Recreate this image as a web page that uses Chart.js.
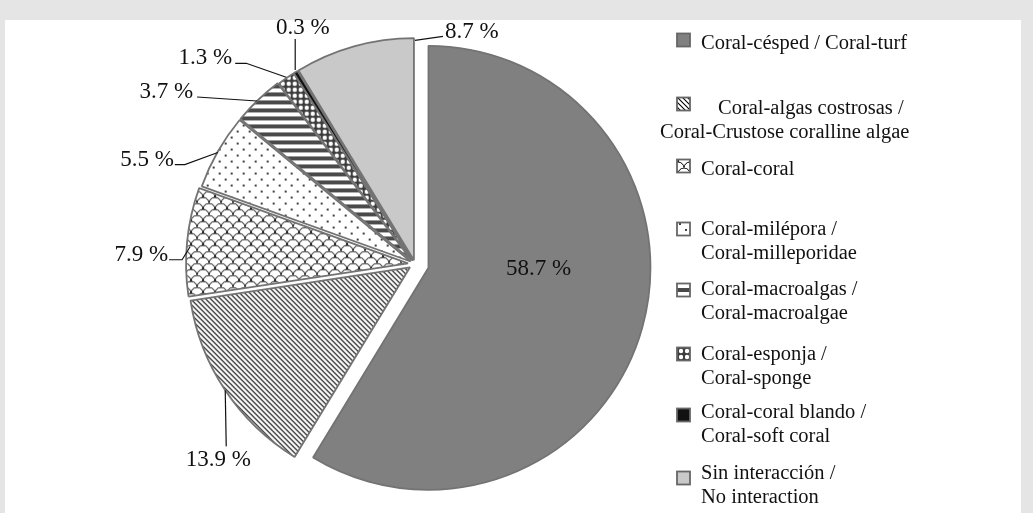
<!DOCTYPE html>
<html>
<head>
<meta charset="utf-8">
<title>Interacciones coralinas</title>
<script src="https://cdn.jsdelivr.net/npm/chart.js@4.4.1/dist/chart.umd.min.js"></script>
<style>
  html, body { margin: 0; padding: 0; width: 1033px; height: 513px; overflow: hidden; background: #e5e5e5; }
  #panel { position: absolute; left: 5px; top: 20px; width: 1016px; height: 493px; background: #ffffff; }
  #wrap { position: absolute; left: 0; top: 0; width: 1033px; height: 513px; }
</style>
</head>
<body>
<div id="panel"></div>
<div id="wrap"><canvas id="chart"></canvas></div>
<script>
// ---- data ----
const categories = [
  'Coral-césped / Coral-turf',
  'Coral-algas costrosas / Coral-Crustose coralline algae',
  'Coral-coral',
  'Coral-milépora / Coral-milleporidae',
  'Coral-macroalgas / Coral-macroalgae',
  'Coral-esponja / Coral-sponge',
  'Coral-coral blando / Coral-soft coral',
  'Sin interacción / No interaction'
];
const values = [58.7, 13.9, 7.9, 5.5, 3.7, 1.3, 0.3, 8.7];
const legendLines = [
  ['Coral-césped / Coral-turf'],
  ['Coral-algas costrosas /', 'Coral-Crustose coralline algae'],
  ['Coral-coral'],
  ['Coral-milépora /', 'Coral-milleporidae'],
  ['Coral-macroalgas /', 'Coral-macroalgae'],
  ['Coral-esponja /', 'Coral-sponge'],
  ['Coral-coral blando /', 'Coral-soft coral'],
  ['Sin interacción /', 'No interaction']
];

// ---- styling ----
const serif = '"Liberation Serif", "Times New Roman", serif';
const labelFont = '23px ' + serif;
const legendFont = '20.5px ' + serif;
const sliceShift = [14, 6, 7, 5, 5, 4, 4, 4];   // explosion distance of each slice, px
const pieRadius = 222;

function tile(w, h, paint) {
  const c = document.createElement('canvas');
  c.width = w; c.height = h;
  const g = c.getContext('2d');
  g.fillStyle = '#ffffff';
  g.fillRect(0, 0, w, h);
  paint(g, w, h);
  return g.createPattern(c, 'repeat');
}

const hatch = tile(5, 5, (g) => {
  g.strokeStyle = '#000'; g.lineWidth = 1.1;
  g.beginPath();
  g.moveTo(-1, -1); g.lineTo(6, 6);
  g.moveTo(4, -1); g.lineTo(6, 1);
  g.moveTo(-1, 4); g.lineTo(1, 6);
  g.stroke();
});
const scales = tile(12, 12, (g) => {
  g.strokeStyle = '#000'; g.lineWidth = 1;
  g.beginPath(); g.arc(6, 12, 6, Math.PI, 2 * Math.PI); g.stroke();
  g.beginPath(); g.arc(0, 6, 6, 1.5 * Math.PI, 2 * Math.PI); g.stroke();
  g.beginPath(); g.arc(12, 6, 6, Math.PI, 1.5 * Math.PI); g.stroke();
});
const dots = tile(12, 12, (g) => {
  g.fillStyle = '#000';
  g.beginPath(); g.arc(2, 2, 1, 0, 2 * Math.PI); g.fill();
  g.beginPath(); g.arc(8, 8, 1, 0, 2 * Math.PI); g.fill();
});
const stripes = tile(8, 8, (g) => {
  g.fillStyle = '#4a4a4a';
  g.fillRect(0, 0, 8, 4);
});
const spheres = tile(6, 6, (g) => {
  g.fillStyle = '#3c3c3c';
  g.fillRect(0, 0, 6, 6);
  g.fillStyle = '#ffffff';
  g.beginPath(); g.arc(3, 3, 2.2, 0, 2 * Math.PI); g.fill();
});

const fills = ['#808080', hatch, scales, dots, stripes, spheres, '#111111', '#c9c9c9'];

// where each value label sits: offsets from the slice rim at its mid-angle (or from its apex)
const labelPlacement = [
  { from: 'apex', text: [110, 7], align: 'center' },
  { path: [[0, 0], [1, 56]], text: [-7, 76], align: 'center' },
  { path: [[3, 5], [-5, 18], [-18, 18]], text: [-19, 19], align: 'right' },
  { path: [[0, 1], [-33, 13], [-43, 13]], text: [-44, 14], align: 'right' },
  { path: [[-1, 1], [-61, -3]], text: [-65, -2], align: 'right' },
  { path: [[0, -1], [-40, -15], [-51, -15]], text: [-54, -14], align: 'right' },
  { path: [[-0.5, -2], [-0.5, -33]], text: [7, -38], align: 'center' },
  { path: [[61, -6], [89, -10]], text: [91, -8], align: 'left' }
];

const legendLayout = {
  iconX: 677, iconSize: 13, textX: 701, lineGap: 24,
  rows: [
    { icon: 40, base: 49 },
    { icon: 104, base: 114, firstX: 718, wrapX: 660 },
    { icon: 166, base: 175 },
    { icon: 229, base: 235 },
    { icon: 290, base: 295 },
    { icon: 354, base: 360 },
    { icon: 415, base: 418 },
    { icon: 478, base: 479 }
  ]
};

// ---- a pie whose slices are pushed out along their mid-angle ----
class ShiftedArc extends Chart.ArcElement {
  static id = 'shiftedArc';
  draw(ctx) {
    const s = this.$shift || 0;
    const mid = (this.startAngle + this.endAngle) / 2;
    ctx.save();
    ctx.translate(Math.cos(mid) * s, Math.sin(mid) * s);
    super.draw(ctx);
    ctx.restore();
  }
}
class ExplodedPie extends Chart.PieController {
  static id = 'explodedPie';
  static defaults = { dataElementType: 'shiftedArc' };
}
Chart.register(ShiftedArc, ExplodedPie);

const shiftPlugin = {
  id: 'sliceShift',
  beforeDatasetsDraw(chart) {
    chart.getDatasetMeta(0).data.forEach((arc, i) => { arc.$shift = sliceShift[i] || 0; });
  }
};

const labelPlugin = {
  id: 'sliceLabels',
  afterDatasetsDraw(chart) {
    const ctx = chart.ctx;
    ctx.save();
    ctx.font = labelFont;
    ctx.fillStyle = '#111';
    ctx.strokeStyle = '#111';
    ctx.lineWidth = 1.2;
    chart.getDatasetMeta(0).data.forEach((arc, i) => {
      const p = arc.getProps(['x', 'y', 'startAngle', 'endAngle', 'outerRadius'], true);
      const mid = (p.startAngle + p.endAngle) / 2;
      const s = sliceShift[i] || 0;
      const cx = p.x + Math.cos(mid) * s;
      const cy = p.y + Math.sin(mid) * s;
      const place = labelPlacement[i];
      const bx = place.from === 'apex' ? cx : cx + Math.cos(mid) * p.outerRadius;
      const by = place.from === 'apex' ? cy : cy + Math.sin(mid) * p.outerRadius;
      if (place.path) {
        ctx.beginPath();
        place.path.forEach(([dx, dy], k) => {
          if (k === 0) ctx.moveTo(bx + dx, by + dy); else ctx.lineTo(bx + dx, by + dy);
        });
        ctx.stroke();
      }
      ctx.textAlign = place.align;
      ctx.textBaseline = 'alphabetic';
      ctx.fillText(values[i].toFixed(1) + ' %', bx + place.text[0], by + place.text[1]);
    });
    ctx.restore();
  }
};

const legendPlugin = {
  id: 'sideLegend',
  afterDraw(chart) {
    const ctx = chart.ctx;
    const L = legendLayout;
    ctx.save();
    ctx.font = legendFont;
    ctx.fillStyle = '#111';
    ctx.textAlign = 'left';
    ctx.textBaseline = 'alphabetic';
    legendLines.forEach((lines, i) => {
      const row = L.rows[i];
      const x0 = L.iconX, y0 = row.icon - L.iconSize / 2;
      ctx.fillStyle = fills[i];
      ctx.fillRect(x0, y0, L.iconSize, L.iconSize);
      ctx.strokeStyle = '#666666';
      ctx.lineWidth = 1.8;
      ctx.strokeRect(x0, y0, L.iconSize, L.iconSize);
      ctx.fillStyle = '#111';
      lines.forEach((t, k) => {
        let x = L.textX;
        if (k === 0 && row.firstX) x = row.firstX;
        if (k > 0 && row.wrapX) x = row.wrapX;
        ctx.fillText(t, x, row.base + k * L.lineGap);
      });
    });
    ctx.restore();
  }
};

new Chart(document.getElementById('chart'), {
  type: 'explodedPie',
  data: {
    labels: categories,
    datasets: [{
      data: values,
      backgroundColor: fills,
      borderColor: '#737373',
      borderWidth: 1.8,
      radius: pieRadius
    }]
  },
  options: {
    responsive: true,
    maintainAspectRatio: false,
    animation: false,
    events: [],
    layout: { padding: { left: 0, right: 203, top: 28, bottom: 13 } },
    plugins: { legend: { display: false }, tooltip: { enabled: false } }
  },
  plugins: [shiftPlugin, labelPlugin, legendPlugin]
});
</script>
</body>
</html>
